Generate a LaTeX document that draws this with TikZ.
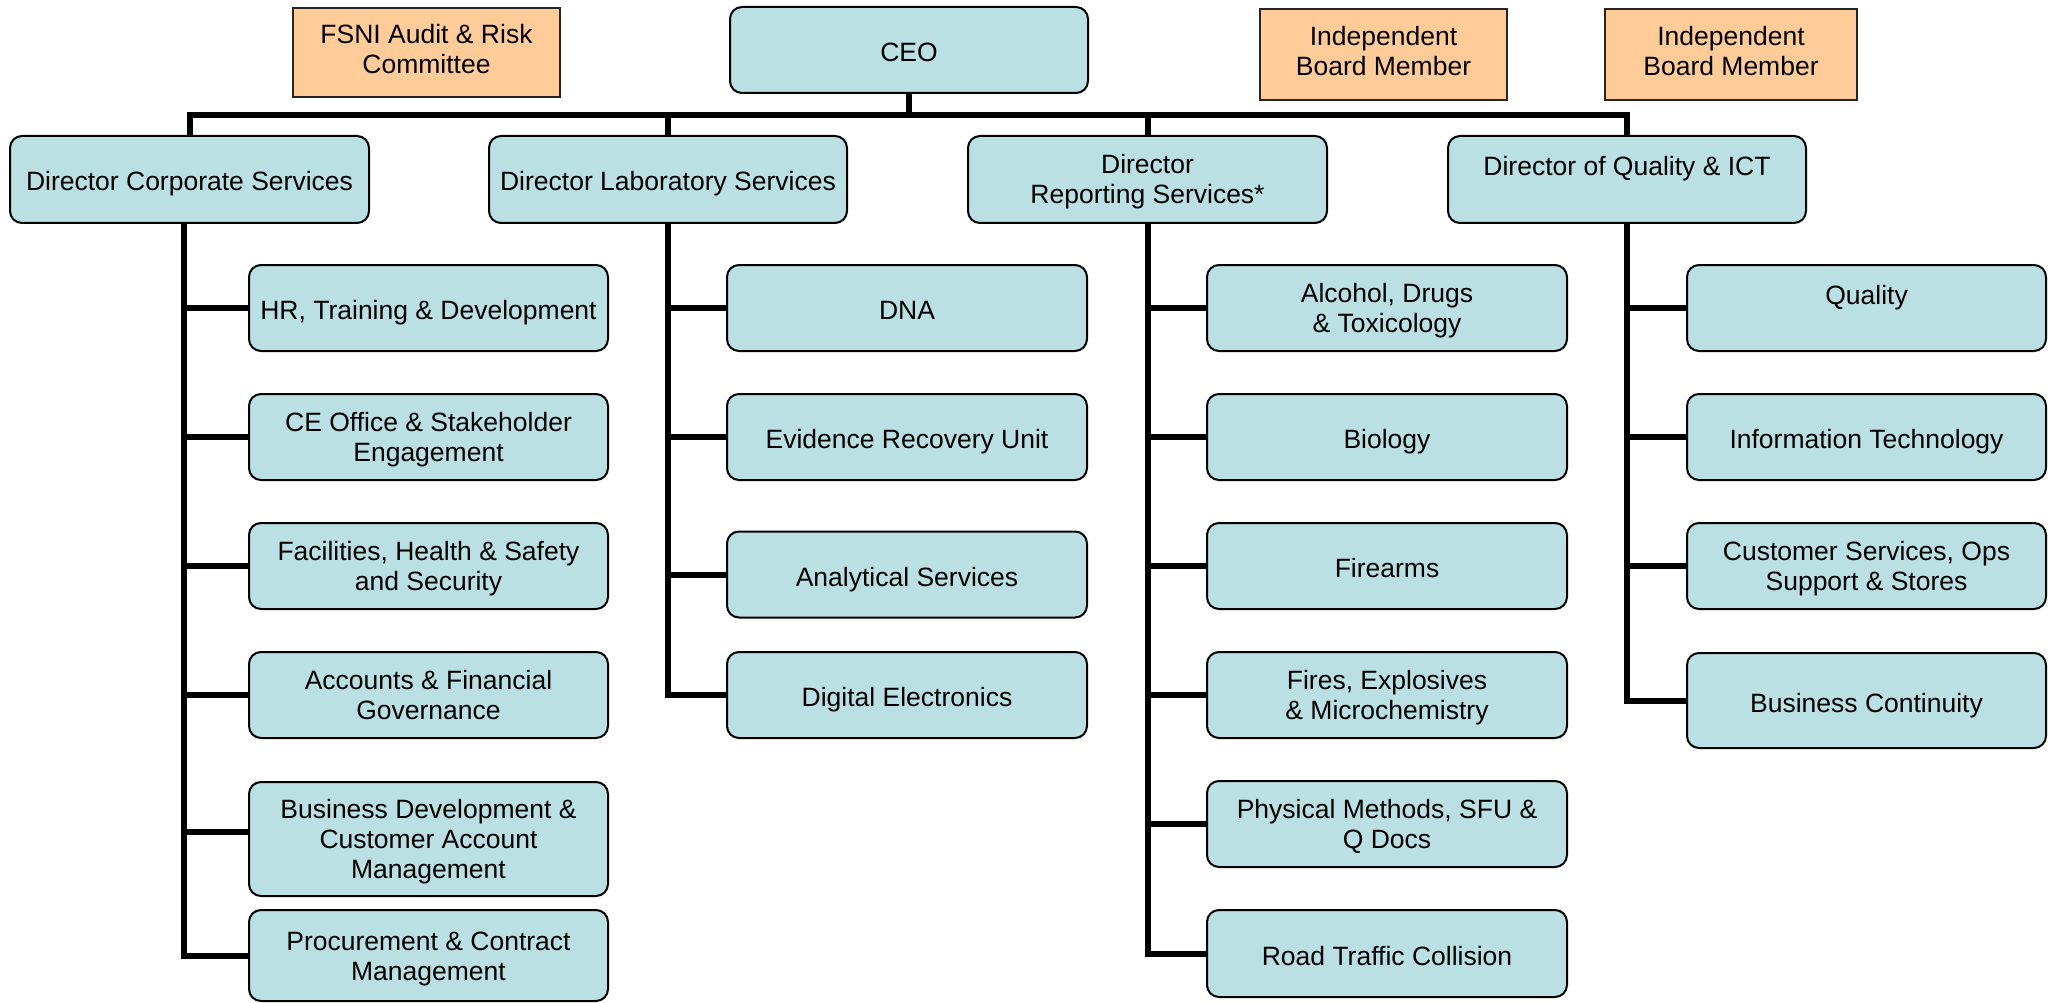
\documentclass[tikz,border=0pt]{standalone}
\usepackage{fontspec}
\setmainfont{Liberation Sans}
\definecolor{boxblue}{HTML}{BAE0E3}
\definecolor{boxorange}{HTML}{FFCC99}
\newcommand\strA{\rule{0pt}{29pt}}% top strut, single line
\newcommand\strB{\rule{0pt}{25pt}}% top strut, multi line
\newcommand\strC{\rule[-6pt]{0pt}{6pt}}% bottom strut
\begin{document}
\begin{tikzpicture}[x=1pt,y=-1pt,
  unit/.style={draw=black, line width=2pt, fill=boxblue, rounded corners=12pt, inner sep=0pt, align=center,
    font=\fontsize{26.5}{30}\selectfont},
  board/.style={draw=black!85, line width=2pt, fill=boxorange, inner sep=0pt, align=center,
    font=\fontsize{26.5}{30}\selectfont,
    execute at begin node={\rule{0pt}{20pt}}, execute at end node={\rule[-7pt]{0pt}{7pt}}},
  link/.style={line width=6pt, draw=black}]
\useasboundingbox (0,0) rectangle (2051,1003);

% top row
\node[board, minimum width=267pt, minimum height=89pt] (fsni) at (426.5,52.5) {FSNI Audit \& Risk\\Committee};
\node[unit, minimum width=358pt, minimum height=86pt] (ceo) at (909,50) {\strA CEO\strC};
\node[board, minimum width=247pt, minimum height=91pt] (ibm1) at (1383.5,54.5) {Independent\\Board Member};
\node[board, minimum width=252pt, minimum height=91pt] (ibm2) at (1731,54.5) {Independent\\Board Member};

% directors
\node[unit, minimum width=359pt, minimum height=87pt] (dcs) at (189.5,179.5) {\strA Director Corporate Services\strC};
\node[unit, minimum width=358pt, minimum height=87pt] (dls) at (668,179.5) {\strA Director Laboratory Services\strC};
\node[unit, minimum width=359pt, minimum height=87pt] (drs) at (1147.5,179.5) {\strB Director\\Reporting Services*\strC};
\node[unit, minimum width=358pt, minimum height=87pt] (dq) at (1627,179.5) {\strA Director of Quality \& ICT\\\mbox{}\strC};

% corporate services
\node[unit, minimum width=359pt, minimum height=86pt] (hr) at (428.5,308) {\strA HR, Training \& Development\strC};
\node[unit, minimum width=359pt, minimum height=86pt] (ce) at (428.5,437) {\strB CE Office \& Stakeholder\\Engagement\strC};
\node[unit, minimum width=359pt, minimum height=86pt] (fac) at (428.5,566) {\strB Facilities, Health \& Safety\\and Security\strC};
\node[unit, minimum width=359pt, minimum height=86pt] (acc) at (428.5,695) {\strB Accounts \& Financial\\Governance\strC};
\node[unit, minimum width=359pt, minimum height=114pt] (bdev) at (428.5,839) {\strB Business Development \&\\Customer Account\\Management\strC};
\node[unit, minimum width=359pt, minimum height=91pt] (proc) at (428.5,955.5) {\strB Procurement \& Contract\\Management\strC};

% laboratory services
\node[unit, minimum width=360pt, minimum height=86pt] (dna) at (907,308) {\strA DNA\strC};
\node[unit, minimum width=360pt, minimum height=86pt] (eru) at (907,437) {\strA Evidence Recovery Unit\strC};
\node[unit, minimum width=360pt, minimum height=86pt] (anal) at (907,574.5) {\strA Analytical Services\strC};
\node[unit, minimum width=360pt, minimum height=86pt] (dig) at (907,695) {\strA Digital Electronics\strC};

% reporting services
\node[unit, minimum width=360pt, minimum height=86pt] (alc) at (1387,308) {\strB Alcohol, Drugs\\\& Toxicology\strC};
\node[unit, minimum width=360pt, minimum height=86pt] (bio) at (1387,437) {\strA Biology\strC};
\node[unit, minimum width=360pt, minimum height=86pt] (fire) at (1387,566) {\strA Firearms\strC};
\node[unit, minimum width=360pt, minimum height=86pt] (fex) at (1387,695) {\strB Fires, Explosives\\\& Microchemistry\strC};
\node[unit, minimum width=360pt, minimum height=86pt] (phys) at (1387,824) {\strB Physical Methods, SFU \&\\Q Docs\strC};
\node[unit, minimum width=360pt, minimum height=87pt] (road) at (1387,953.5) {\strA Road Traffic Collision\strC};

% quality & ICT
\node[unit, minimum width=359pt, minimum height=86pt] (qual) at (1866.5,308) {\strA Quality\\\mbox{}\strC};
\node[unit, minimum width=359pt, minimum height=86pt] (it) at (1866.5,437) {\strA Information Technology\strC};
\node[unit, minimum width=359pt, minimum height=86pt] (cust) at (1866.5,566) {\strB Customer Services, Ops\\Support \& Stores\strC};
\node[unit, minimum width=359pt, minimum height=95pt] (bc) at (1866.5,700.5) {\strA Business Continuity\strC};

% top connectors
\coordinate (bar) at (0,115);
\draw[link] (ceo.south) -- (ceo.south |- bar);
\draw[link] (dcs.north) |- (dq.north |- bar) -- (dq.north);
\draw[link] (dls.north) -- (dls.north |- bar);
\draw[link] (drs.north) -- (drs.north |- bar);

% trunks
\coordinate (t1) at (184,223);
\draw[link] (t1) |- (proc.west);
\foreach \n in {hr,ce,fac,acc} \draw[link] (\n.west) -- (\n.west -| t1);
\draw[link] ([yshift=7pt]bdev.west) -- ([yshift=7pt]bdev.west -| t1);

\draw[link] (dls.south) |- (dig.west);
\foreach \n in {dna,eru,anal} \draw[link] (\n.west) -- (\n.west -| dls.south);

\draw[link] (drs.south) |- (road.west);
\foreach \n in {alc,bio,fire,fex,phys} \draw[link] (\n.west) -- (\n.west -| drs.south);

\draw[link] (dq.south) |- (bc.west);
\foreach \n in {qual,it,cust} \draw[link] (\n.west) -- (\n.west -| dq.south);
\end{tikzpicture}
\end{document}
